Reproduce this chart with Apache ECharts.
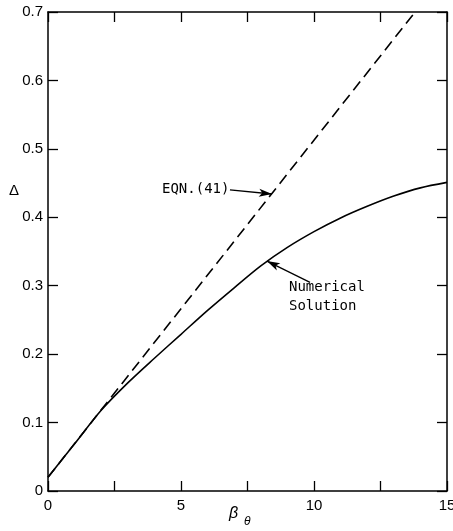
<!DOCTYPE html>
<html><head><meta charset="utf-8">
<script src="https://cdn.jsdelivr.net/npm/echarts@6/dist/echarts.min.js"></script>
<style>html,body{margin:0;padding:0;background:#fff}#c{width:453px;height:531px}</style>
</head><body><div id="c"></div>
<script>
// Data
const numX = [0, 1, 2, 3, 4, 5, 6, 7, 8, 9, 10, 11, 12, 13, 14, 15];
const numY = [0.02, 0.069, 0.118, 0.158, 0.194, 0.229, 0.264, 0.297, 0.329, 0.356, 0.379, 0.399, 0.416, 0.431, 0.443, 0.451];
const eqnX = [0, 13.8];
const eqnY = [0.02, 0.7];
const xTickLabels = ['0', '5', '10', '15'];
const yTickLabels = ['0', '0.1', '0.2', '0.3', '0.4', '0.5', '0.6', '0.7'];
const eqnArrow = [[6.84, 0.44], [8.42, 0.434]];
const numArrow = [[9.85, 0.305], [8.23, 0.336]];

const chart = echarts.init(document.getElementById('c'), null, {renderer: 'canvas'});
const font = '"Liberation Sans", Arial, sans-serif';
const axisLine = {show: true, onZero: false, lineStyle: {color: '#000', width: 1.5}};
const tick = {show: true, inside: true, length: 10, lineStyle: {color: '#000', width: 1.3}};

function xFmt(v) {
  const s = String(v);
  return xTickLabels.indexOf(s) >= 0 ? s : '';
}
function yFmt(v) {
  const s = v === 0 ? '0' : String(Math.round(v * 10) / 10);
  return yTickLabels.indexOf(s) >= 0 ? s : '';
}

chart.setOption({
  animation: false,
  grid: {left: 48, right: 6, top: 12, bottom: 40, containLabel: false, outerBoundsMode: 'none'},
  xAxis: [
    {type: 'value', min: 0, max: 15, interval: 2.5, position: 'bottom',
     axisLine: axisLine, axisTick: tick, splitLine: {show: false},
     axisLabel: {formatter: xFmt, color: '#000', fontSize: 15, fontFamily: font, margin: 7}},
    {type: 'value', min: 0, max: 15, interval: 2.5, position: 'top',
     axisLine: axisLine, axisTick: tick, splitLine: {show: false}, axisLabel: {show: false}}
  ],
  yAxis: [
    {type: 'value', min: 0, max: 0.7, interval: 0.1, position: 'left',
     axisLine: axisLine, axisTick: tick, splitLine: {show: false},
     axisLabel: {formatter: yFmt, color: '#000', fontSize: 15, fontFamily: font, margin: 5}},
    {type: 'value', min: 0, max: 0.7, interval: 0.1, position: 'right',
     axisLine: axisLine, axisTick: tick, splitLine: {show: false}, axisLabel: {show: false}}
  ],
  series: [
    {type: 'line', smooth: 0.3, symbol: 'none',
     data: numX.map((x, i) => [x, numY[i]]),
     lineStyle: {color: '#000', width: 1.6},
     markLine: {silent: true, symbol: ['none', 'arrow'], symbolSize: [6, 13],
       lineStyle: {color: '#000', width: 1.3, type: 'solid'}, label: {show: false},
       data: [
         [{coord: eqnArrow[0]}, {coord: eqnArrow[1]}],
         [{coord: numArrow[0]}, {coord: numArrow[1]}]
       ]}
    },
    {type: 'line', symbol: 'none',
     data: eqnX.map((x, i) => [x, eqnY[i]]),
     lineStyle: {color: '#000', width: 1.6, type: [11, 6]}}
  ],
  graphic: [
    {type: 'text', left: 162, top: 182, style: {text: 'EQN.(41)', font: '14px "DejaVu Sans Mono", monospace', fill: '#000'}},
    {type: 'text', left: 289, top: 280, style: {text: 'Numerical', font: '14px "DejaVu Sans Mono", monospace', fill: '#000'}},
    {type: 'text', left: 289, top: 299, style: {text: 'Solution', font: '14px "DejaVu Sans Mono", monospace', fill: '#000'}},
    {type: 'text', left: 9, top: 183, style: {text: 'Δ', font: '15px "Liberation Sans", sans-serif', fill: '#000'}},
    {type: 'text', left: 229, top: 506, style: {text: 'β', font: 'italic 16px "Liberation Sans", sans-serif', fill: '#000'}},
    {type: 'text', left: 244, top: 516, style: {text: 'θ', font: 'italic 12px "Liberation Sans", sans-serif', fill: '#000'}}
  ]
});
</script></body></html>
